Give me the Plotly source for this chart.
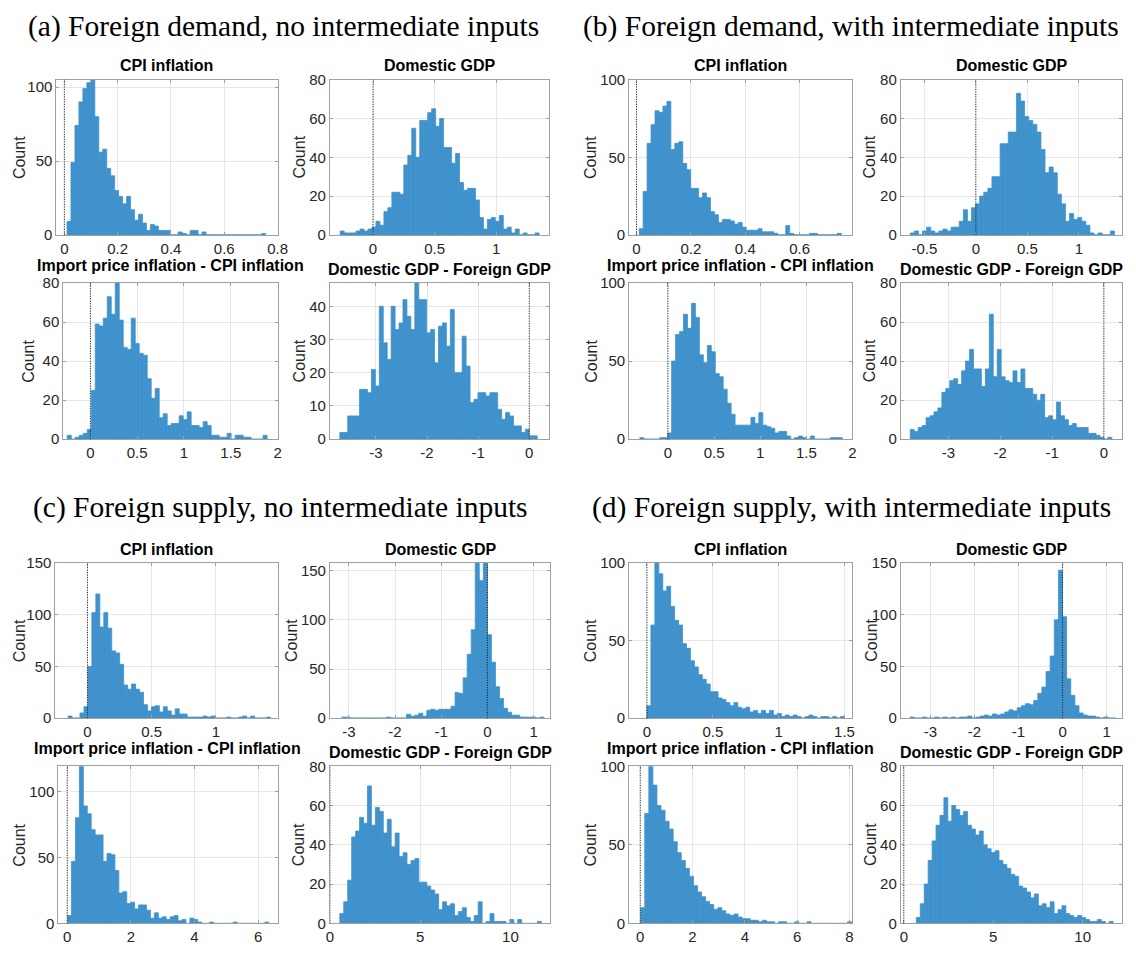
import plotly.graph_objects as go

# ---------------- data ----------------
section_titles = [
    "(a) Foreign demand, no intermediate inputs",
    "(b) Foreign demand, with intermediate inputs",
    "(c) Foreign supply, no intermediate inputs",
    "(d) Foreign supply, with intermediate inputs",
]
panel_titles = ["CPI inflation", "Domestic GDP",
                "Import price inflation - CPI inflation", "Domestic GDP - Foreign GDP"]
y_label = "Count"

# (a) Foreign demand, no intermediate inputs
a_cpi_start, a_cpi_width = 0.010, 0.0149
a_cpi_counts = [9, 49, 74, 90, 99, 103, 106, 80, 56, 58, 45, 40, 30, 26, 21, 26, 17, 10, 14, 8,
                3, 7, 6, 3, 3, 3, 0, 0, 2, 1, 0, 3, 3, 0, 2, 0, 0, 0, 0, 0,
                0, 0, 0, 0, 0, 0, 0, 0, 0, 1]
a_gdp_start, a_gdp_width = -0.267, 0.0323
a_gdp_counts = [2, 1, 1, 1, 2, 3, 2, 3, 4, 7, 5, 12, 14, 22, 22, 21, 36, 41, 55, 40,
                59, 59, 63, 65, 56, 60, 45, 45, 37, 42, 27, 23, 24, 24, 18, 9, 3, 8, 9, 7,
                10, 3, 4, 1, 3, 0, 1, 0, 0, 1]
a_imp_start, a_imp_width = -0.247, 0.0427
a_imp_counts = [2, 0, 1, 2, 3, 5, 25, 59, 58, 62, 73, 64, 82, 61, 47, 46, 62, 49, 44, 43,
                31, 21, 26, 11, 13, 7, 8, 8, 12, 10, 14, 7, 7, 6, 9, 7, 2, 2, 1, 1,
                3, 0, 2, 2, 1, 1, 0, 0, 0, 2]
a_diff_start, a_diff_width = -3.706, 0.0772
a_diff_counts = [2, 2, 7, 7, 7, 15, 15, 14, 21, 16, 40, 29, 24, 40, 33, 35, 42, 37, 33, 48,
                 42, 42, 32, 33, 23, 34, 35, 28, 39, 20, 20, 31, 22, 11, 12, 14, 14, 13, 14, 14,
                 9, 6, 8, 7, 4, 4, 2, 3, 1, 1]

# (b) Foreign demand, with intermediate inputs
b_cpi_start, b_cpi_width = 0.0097, 0.01457
b_cpi_counts = [4, 28, 59, 71, 80, 79, 83, 86, 55, 59, 60, 46, 42, 30, 30, 24, 27, 24, 15, 13,
                8, 10, 10, 9, 7, 8, 5, 3, 3, 3, 4, 2, 2, 2, 1, 0, 0, 6, 1, 0,
                0, 0, 0, 1, 1, 0, 0, 0, 0, 0, 1]
b_gdp_start, b_gdp_width = -0.636, 0.0396
b_gdp_counts = [1, 2, 0, 2, 4, 2, 1, 2, 3, 2, 4, 4, 7, 13, 7, 14, 16, 20, 22, 24,
                30, 30, 47, 47, 53, 53, 73, 69, 61, 59, 57, 53, 44, 32, 35, 32, 21, 16, 7, 11,
                8, 9, 7, 5, 1, 0, 1, 0, 0, 2]
b_imp_start, b_imp_width = -0.304, 0.043
b_imp_counts = [1, 0, 0, 0, 0, 1, 1, 4, 50, 67, 69, 80, 71, 87, 78, 54, 49, 60, 56, 42,
                40, 32, 23, 16, 9, 9, 9, 9, 14, 10, 17, 9, 8, 7, 4, 5, 5, 2, 0, 1,
                2, 1, 0, 2, 0, 0, 0, 0, 1, 1, 1]
b_diff_start, b_diff_width = -3.738, 0.0763
b_diff_counts = [5, 4, 6, 7, 11, 12, 14, 16, 24, 26, 30, 31, 28, 35, 40, 46, 36, 36, 27, 36,
                 64, 32, 46, 32, 30, 29, 35, 29, 36, 26, 26, 23, 20, 23, 11, 12, 10, 19, 12, 10,
                 7, 8, 6, 6, 6, 3, 3, 2, 1, 0, 1]

# (c) Foreign supply, no intermediate inputs
c_cpi_start, c_cpi_width = -0.151, 0.0309
c_cpi_counts = [2, 0, 0, 5, 11, 50, 102, 120, 88, 102, 87, 65, 63, 52, 32, 28, 33, 28, 25, 13,
                7, 11, 12, 6, 11, 7, 3, 9, 4, 4, 1, 1, 1, 1, 2, 1, 2, 0, 0, 0,
                1, 0, 0, 1, 2, 0, 2, 0, 0, 0, 1]
c_gdp_start, c_gdp_width = -3.15, 0.0875
c_gdp_counts = [1, 1, 0, 0, 0, 0, 0, 0, 0, 0, 0, 1, 0, 0, 0, 0, 4, 2, 3, 5,
                2, 8, 9, 8, 9, 9, 9, 12, 26, 25, 41, 65, 90, 170, 140, 170, 85, 57, 32, 20,
                10, 6, 3, 3, 1, 1, 1, 1, 0, 1]
c_imp_start, c_imp_width = 0.01, 0.124
c_imp_counts = [6, 47, 80, 125, 89, 83, 71, 67, 67, 47, 53, 52, 40, 23, 24, 15, 16, 11, 14, 14,
                10, 4, 8, 4, 5, 3, 5, 6, 2, 3, 0, 4, 3, 1, 0, 0, 1, 0, 0, 0,
                0, 0, 1, 0, 0, 0, 0, 0, 0, 0, 1]
c_diff_start, c_diff_width = 0.547, 0.219
c_diff_counts = [5, 11, 22, 44, 47, 54, 51, 70, 50, 59, 57, 46, 53, 39, 46, 34, 36, 30, 32, 33,
                 21, 21, 19, 17, 15, 7, 11, 9, 10, 4, 6, 8, 3, 1, 4, 11, 0, 1, 5, 1,
                 1, 1, 0, 2, 0, 2, 0, 0, 0, 0, 1]

# (d) Foreign supply, with intermediate inputs
d_cpi_start, d_cpi_width = 0.0, 0.03
d_cpi_counts = [8, 60, 104, 93, 82, 85, 72, 63, 60, 48, 45, 37, 33, 28, 25, 22, 17, 17, 13, 12,
                10, 8, 10, 7, 6, 7, 4, 5, 3, 5, 3, 5, 2, 3, 1, 2, 1, 2, 1, 0,
                1, 2, 1, 0, 1, 1, 0, 1, 0, 1]
d_gdp_start, d_gdp_width = -3.46, 0.0935
d_gdp_counts = [1, 0, 0, 1, 0, 0, 1, 0, 1, 0, 1, 0, 1, 1, 2, 0, 1, 2, 3, 2,
                4, 3, 4, 6, 8, 7, 10, 12, 14, 13, 17, 24, 30, 45, 60, 95, 143, 98, 38, 22,
                12, 5, 3, 2, 2, 1, 0, 1, 0, 0]
d_imp_start, d_imp_width = 0.02, 0.155
d_imp_counts = [10, 70, 120, 88, 75, 72, 65, 60, 52, 45, 40, 35, 30, 24, 20, 17, 14, 12, 9, 10,
                8, 6, 5, 6, 4, 3, 3, 2, 2, 1, 2, 1, 1, 0, 1, 1, 0, 0, 1, 0,
                0, 1, 0, 0, 0, 0, 0, 0, 0, 0, 0, 1]
d_diff_start, d_diff_width = 0.7, 0.22
d_diff_counts = [3, 10, 20, 32, 42, 50, 55, 64, 52, 60, 58, 55, 57, 50, 48, 45, 47, 40, 38, 36,
                 37, 32, 30, 28, 25, 24, 19, 18, 16, 13, 15, 9, 10, 8, 11, 5, 7, 9, 5, 4,
                 3, 4, 3, 2, 1, 1, 2, 1, 0, 1]

# axis ticks
a_cpi_xticks, a_cpi_yticks = [0, 0.2, 0.4, 0.6, 0.8], [0, 50, 100]
a_gdp_xticks, a_gdp_yticks = [0, 0.5, 1], [0, 20, 40, 60, 80]
a_imp_xticks, a_imp_yticks = [0, 0.5, 1, 1.5, 2], [0, 20, 40, 60, 80]
a_diff_xticks, a_diff_yticks = [-3, -2, -1, 0], [0, 10, 20, 30, 40]
b_cpi_xticks, b_cpi_yticks = [0, 0.2, 0.4, 0.6], [0, 50, 100]
b_gdp_xticks, b_gdp_yticks = [-0.5, 0, 0.5, 1], [0, 20, 40, 60, 80]
b_imp_xticks, b_imp_yticks = [0, 0.5, 1, 1.5, 2], [0, 50, 100]
b_diff_xticks, b_diff_yticks = [-3, -2, -1, 0], [0, 20, 40, 60, 80]
c_cpi_xticks, c_cpi_yticks = [0, 0.5, 1], [0, 50, 100, 150]
c_gdp_xticks, c_gdp_yticks = [-3, -2, -1, 0, 1], [0, 50, 100, 150]
c_imp_xticks, c_imp_yticks = [0, 2, 4, 6], [0, 50, 100]
c_diff_xticks, c_diff_yticks = [0, 5, 10], [0, 20, 40, 60, 80]
d_cpi_xticks, d_cpi_yticks = [0, 0.5, 1, 1.5], [0, 50, 100]
d_gdp_xticks, d_gdp_yticks = [-3, -2, -1, 0, 1], [0, 50, 100, 150]
d_imp_xticks, d_imp_yticks = [0, 2, 4, 6, 8], [0, 50, 100]
d_diff_xticks, d_diff_yticks = [0, 5, 10], [0, 20, 40, 60, 80]

# ---------------- layout / style ----------------
W, H = 1136, 954
BAR = "#3f92cc"
GRID = "#e6e6e6"
AXC = "#a0a0a0"
TXT = "#262626"
SANS = "Liberation Sans, Arial, Helvetica, sans-serif"
SERIF = "Liberation Serif, Times New Roman, serif"

# each: data, title idx, x range, y range, box (left, right, top, bottom) px, count-label x px
panels = [
    (a_cpi_start, a_cpi_width, a_cpi_counts, a_cpi_xticks, a_cpi_yticks, 0, [-0.03, 0.8], [0, 105], (53, 277, 72, 230), 16),
    (a_gdp_start, a_gdp_width, a_gdp_counts, a_gdp_xticks, a_gdp_yticks, 1, [-0.35, 1.43], [0, 80], (330, 552, 72, 230), 299),
    (a_imp_start, a_imp_width, a_imp_counts, a_imp_xticks, a_imp_yticks, 2, [-0.29, 2.0], [0, 80], (60, 277, 279, 438), 24),
    (a_diff_start, a_diff_width, a_diff_counts, a_diff_xticks, a_diff_yticks, 3, [-3.9, 0.39], [0, 47], (330, 552, 279, 438), 299),
    (b_cpi_start, b_cpi_width, b_cpi_counts, b_cpi_xticks, b_cpi_yticks, 0, [-0.027, 0.794], [0, 100], (633, 859, 72, 230), 594),
    (b_gdp_start, b_gdp_width, b_gdp_counts, b_gdp_xticks, b_gdp_yticks, 1, [-0.728, 1.418], [0, 80], (908, 1132, 72, 230), 876),
    (b_imp_start, b_imp_width, b_imp_counts, b_imp_xticks, b_imp_yticks, 2, [-0.42, 2.0], [0, 100], (633, 859, 279, 438), 594),
    (b_diff_start, b_diff_width, b_diff_counts, b_diff_xticks, b_diff_yticks, 3, [-3.92, 0.35], [0, 80], (908, 1132, 279, 438), 876),
    (c_cpi_start, c_cpi_width, c_cpi_counts, c_cpi_xticks, c_cpi_yticks, 0, [-0.25, 1.48], [0, 150], (52, 277, 564, 722), 16),
    (c_gdp_start, c_gdp_width, c_gdp_counts, c_gdp_xticks, c_gdp_yticks, 1, [-3.41, 1.36], [0, 158], (330, 553, 564, 722), 291),
    (c_imp_start, c_imp_width, c_imp_counts, c_imp_xticks, c_imp_yticks, 2, [-0.28, 6.61], [0, 119], (55, 277, 771, 931), 16),
    (c_diff_start, c_diff_width, c_diff_counts, c_diff_xticks, c_diff_yticks, 3, [0, 12.2], [0, 80], (330, 553, 771, 931), 299),
    (d_cpi_start, d_cpi_width, d_cpi_counts, d_cpi_xticks, d_cpi_yticks, 0, [-0.135, 1.56], [0, 100], (633, 859, 564, 722), 594),
    (d_gdp_start, d_gdp_width, d_gdp_counts, d_gdp_xticks, d_gdp_yticks, 1, [-3.67, 1.35], [0, 150], (908, 1132, 564, 722), 878),
    (d_imp_start, d_imp_width, d_imp_counts, d_imp_xticks, d_imp_yticks, 2, [-0.42, 8.11], [0, 100], (633, 859, 771, 931), 594),
    (d_diff_start, d_diff_width, d_diff_counts, d_diff_xticks, d_diff_yticks, 3, [-0.17, 12.2], [0, 80], (908, 1132, 771, 931), 878),
]


def fmt(v):
    return f"{v:g}"


fig = go.Figure()
layout = dict(width=W, height=H, margin=dict(l=0, r=0, t=0, b=0),
              paper_bgcolor="white", plot_bgcolor="white", showlegend=False,
              font=dict(family=SANS, color=TXT))
shapes, annotations = [], []

for i, (start, width, counts, xt, yt, ti, xr, yr, box, cx) in enumerate(panels, start=1):
    sfx = "" if i == 1 else str(i)
    xref, yref = "x" + sfx, "y" + sfx
    l, r, t, b = box
    common = dict(showgrid=True, gridcolor=GRID, gridwidth=1, showline=True, linecolor=AXC,
                  linewidth=1, mirror="ticks", ticks="inside", ticklen=3, tickcolor=AXC,
                  zeroline=False, tickfont=dict(family=SANS, size=15, color=TXT), fixedrange=True)
    layout["xaxis" + sfx] = dict(common, domain=[l / W, r / W], anchor=yref, range=xr,
                                 tickvals=xt, ticktext=[fmt(v) for v in xt])
    layout["yaxis" + sfx] = dict(common, domain=[1 - b / H, 1 - t / H], anchor=xref, range=yr,
                                 tickvals=yt, ticktext=[fmt(v) for v in yt])
    centers = [start + width * (k + 0.5) for k in range(len(counts))]
    fig.add_trace(go.Bar(x=centers, y=counts, width=[width] * len(counts),
                         marker=dict(color=BAR, line=dict(color=BAR, width=0.8)),
                         xaxis=xref, yaxis=yref, hoverinfo="skip"))
    shapes.append(dict(type="line", xref=xref, yref=yref + " domain", x0=0, x1=0, y0=0, y1=1,
                       line=dict(color="#111111", width=1, dash="1px,1.5px"), layer="above"))
    long_title = ti == 2
    ty = t - (18 if long_title else 14)
    annotations.append(dict(text="<b>" + panel_titles[ti] + "</b>", xref="paper", yref="paper",
                            x=(l + r) / 2 / W, y=1 - ty / H, xanchor="center", yanchor="middle",
                            showarrow=False, font=dict(family=SANS, size=16, color="black")))
    annotations.append(dict(text=y_label, xref="paper", yref="paper", textangle=-90,
                            x=cx / W, y=1 - (t + b) / 2 / H, xanchor="center", yanchor="middle",
                            showarrow=False, font=dict(family=SANS, size=16, color=TXT)))

sec_pos = [(283, 18), (858, 18), (280, 508), (858, 508)]
for s, (sx, sy) in zip(section_titles, sec_pos):
    annotations.append(dict(text=s, xref="paper", yref="paper", x=sx / W, y=1 - sy / H,
                            xanchor="center", yanchor="middle", showarrow=False,
                            font=dict(family=SERIF, size=29.5, color="black")))

layout["shapes"] = shapes
layout["annotations"] = annotations
fig.update_layout(**layout)
fig.write_html("out.html")
